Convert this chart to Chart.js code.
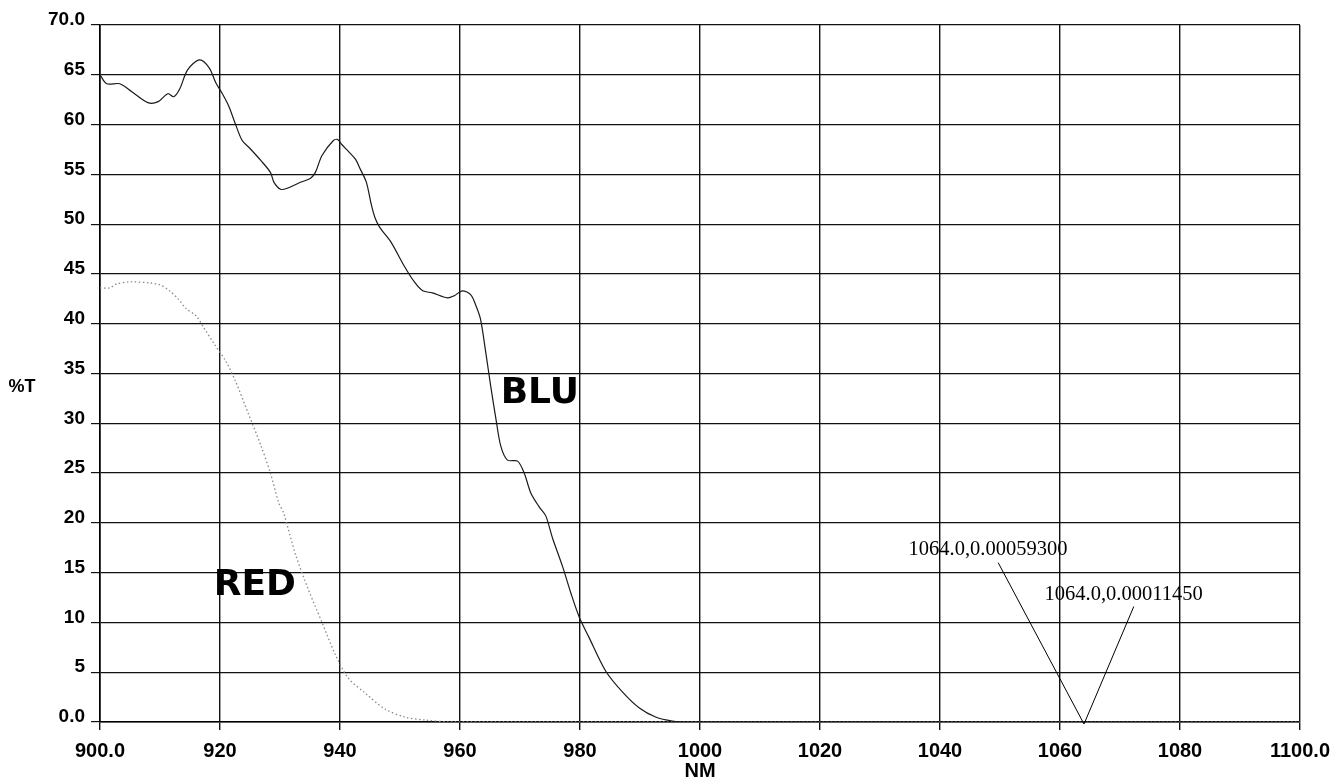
<!DOCTYPE html>
<html>
<head>
<meta charset="utf-8">
<script src="https://cdn.jsdelivr.net/npm/chart.js@4.4.1/dist/chart.umd.min.js"></script>
<style>
  html, body { margin: 0; padding: 0; background: #fff; }
  #wrap { width: 1333px; height: 783px; }
</style>
</head>
<body>
<div id="wrap"><canvas id="c" width="1333" height="783"></canvas></div>
<script>
// ---- data ----
const bluNm = [900, 901.1, 903.3, 905.3, 908, 909.7, 911.3, 912.3, 913.3, 914.6, 916.6, 918.2, 919.3, 920.3, 921.5, 922.6, 923.7, 925, 926.8, 928.4, 929, 930.1, 931.2, 933.4, 935.1, 935.9, 937, 938.9, 939.6, 940.3, 941.4, 942.6, 943.4, 944.4, 945.2, 945.8, 946.6, 948.5, 950.7, 952.4, 953.8, 955.4, 957.9, 959, 960.4, 961.8, 962.6, 963.4, 964.3, 965.1, 966, 966.8, 967.9, 969.6, 970.7, 971.8, 973.2, 974.3, 975.4, 977.1, 978.5, 979.9, 981.5, 984.3, 987.1, 989.9, 992.6, 995.4, 998.2, 1030, 1064, 1100];
const bluT  = [65.0, 64.1, 64.1, 63.3, 62.2, 62.3, 63.1, 62.8, 63.6, 65.5, 66.5, 65.7, 64.2, 63.2, 61.8, 60.0, 58.4, 57.6, 56.4, 55.2, 54.2, 53.5, 53.6, 54.2, 54.6, 55.2, 56.9, 58.4, 58.5, 58.0, 57.3, 56.5, 55.5, 54.2, 52.0, 50.7, 49.7, 48.2, 45.8, 44.2, 43.3, 43.1, 42.6, 42.8, 43.3, 42.9, 41.9, 40.5, 37.1, 33.8, 30.4, 27.7, 26.3, 26.2, 25.0, 23.0, 21.6, 20.7, 18.5, 15.6, 12.9, 10.5, 8.5, 5.1, 3.0, 1.4, 0.5, 0.1, 0.0, 0.0, 0.0006, 0.0];

const redNm = [900, 901.6, 902.8, 905, 908.3, 910, 911.6, 913, 914.4, 916, 917.4, 919, 921, 922.6, 924.7, 926.8, 928.4, 929.8, 930.6, 932.6, 934.8, 937, 939.2, 941.4, 944.2, 947.5, 950.8, 954.2, 958.6, 1000, 1064, 1100];
const redT  = [43.6, 43.6, 44.0, 44.2, 44.1, 43.9, 43.3, 42.5, 41.5, 40.8, 39.5, 38.0, 36.2, 34.2, 31.0, 27.8, 25.0, 22.0, 21.0, 16.8, 13.2, 10.0, 6.8, 4.4, 2.9, 1.3, 0.5, 0.2, 0.0, 0.0, 0.0001, 0.0];

// tick labels
const yTickLabels = {70: "70.0", 65: "65", 60: "60", 55: "55", 50: "50", 45: "45", 40: "40", 35: "35", 30: "30", 25: "25", 20: "20", 15: "15", 10: "10", 5: "5", 0: "0.0"};
const xTickLabels = {900: "900.0", 920: "920", 940: "940", 960: "960", 980: "980", 1000: "1000", 1020: "1020", 1040: "1040", 1060: "1060", 1080: "1080", 1100: "1100.0"};
const xTitle = "NM";
const yTitle = "%T";

// cursor annotations (label text, label anchor, line start, target point)
const annoText  = ["1064.0,0.00059300", "1064.0,0.00011450"];
const annoLabelNm = [1048.0, 1070.6];
const annoLabelT  = [17.3, 12.8];
const annoLineNm  = [1049.7, 1072.3];
const annoLineT   = [16.0, 11.6];
const annoTargetNm = [1064, 1064];
const annoTargetT  = [0, 0];

// handwritten notes
const noteText = ["BLU", "RED"];
const noteNm = [973.3, 925.8];
const noteT  = [33.0, 13.7];

// ---- chart ----
const toPts = (xs, ys) => xs.map((x, i) => ({x: x, y: ys[i]}));
const sans = '"Liberation Sans", Arial, sans-serif';

const overlay = {
  id: 'overlay',
  afterDatasetsDraw(chart) {
    const ctx = chart.ctx;
    const xs = chart.scales.x, ys = chart.scales.y;
    ctx.save();
    // cursor annotations
    ctx.font = '20.5px "Liberation Serif", "Times New Roman", serif';
    ctx.fillStyle = '#000';
    ctx.strokeStyle = '#000';
    ctx.lineWidth = 1;
    ctx.textAlign = 'center';
    ctx.textBaseline = 'middle';
    for (let i = 0; i < annoText.length; i++) {
      ctx.fillText(annoText[i], xs.getPixelForValue(annoLabelNm[i]), ys.getPixelForValue(annoLabelT[i]));
      ctx.beginPath();
      ctx.moveTo(xs.getPixelForValue(annoLineNm[i]), ys.getPixelForValue(annoLineT[i]));
      ctx.lineTo(xs.getPixelForValue(annoTargetNm[i]), ys.getPixelForValue(annoTargetT[i]) + 2);
      ctx.stroke();
    }
    // handwritten notes
    ctx.font = 'bold 36px "DejaVu Sans", sans-serif';
    for (let i = 0; i < noteText.length; i++) {
      ctx.fillText(noteText[i], xs.getPixelForValue(noteNm[i]), ys.getPixelForValue(noteT[i]));
    }
    // y axis title (horizontal)
    ctx.font = 'bold 18px ' + sans;
    ctx.textAlign = 'center';
    ctx.fillText(yTitle, 22, ys.getPixelForValue(33.6));
    ctx.restore();
  }
};

new Chart(document.getElementById('c'), {
  type: 'line',
  data: {
    datasets: [
      {
        label: 'BLU',
        data: toPts(bluNm, bluT),
        borderColor: '#1a1a1a',
        borderWidth: 1.2,
        pointRadius: 0,
        tension: 0.3,
        fill: false
      },
      {
        label: 'RED',
        data: toPts(redNm, redT),
        borderColor: '#8a8a8a',
        borderWidth: 1.3,
        borderDash: [1.5, 2.5],
        pointRadius: 0,
        tension: 0.3,
        fill: false
      }
    ]
  },
  options: {
    responsive: false,
    animation: false,
    devicePixelRatio: 1,
    layout: { padding: { top: 25, right: 33, left: 0, bottom: 0 } },
    plugins: {
      legend: { display: false },
      tooltip: { enabled: false }
    },
    scales: {
      x: {
        type: 'linear',
        min: 900, max: 1100,
        ticks: {
          stepSize: 20,
          autoSkip: false,
          maxRotation: 0,
          padding: 9,
          color: '#000',
          font: { family: sans, size: 20, weight: 'bold' },
          callback: v => xTickLabels[v] !== undefined ? xTickLabels[v] : ''
        },
        grid: { color: '#111', lineWidth: 1.4, tickLength: 8 },
        border: { color: '#000', width: 1.6 },
        title: {
          display: true, text: xTitle, color: '#000', padding: { top: 0, bottom: 0 },
          font: { family: sans, size: 20, weight: 'bold' }
        },
        afterFit: s => { s.height = 61; s.paddingRight = 0; s.paddingLeft = 0; }
      },
      y: {
        type: 'linear',
        min: 0, max: 70,
        ticks: {
          stepSize: 5,
          autoSkip: false,
          padding: 6,
          labelOffset: -5,
          color: '#000',
          font: { family: sans, size: 19, weight: 'bold' },
          callback: v => yTickLabels[v] !== undefined ? yTickLabels[v] : ''
        },
        grid: { color: '#111', lineWidth: 1.2, tickLength: 9 },
        border: { color: '#000', width: 1.6 },
        afterFit: s => { s.width = 100; s.paddingTop = 0; s.paddingBottom = 0; }
      }
    }
  },
  plugins: [overlay]
});
</script>
</body>
</html>
